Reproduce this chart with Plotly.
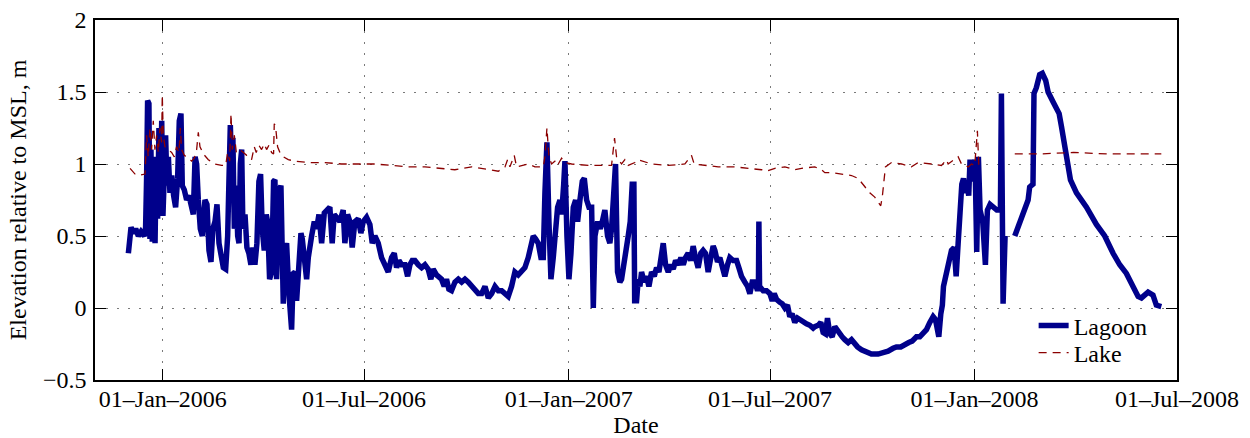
import pandas as pd
import plotly.graph_objects as go

# Water levels, days counted from 1 Nov 2005
START = pd.Timestamp("2005-11-01")

lagoon_day = [
    30.0, 31.0, 32.4, 34.5, 36.6, 39.0, 41.4, 44.4, 45.5, 46.4,
    47.3, 48.5, 49.4, 50.3, 51.5, 52.7, 54.0, 55.1, 56.3, 57.5,
    58.7, 60.0, 61.1, 62.3, 63.5, 64.7, 66.0, 67.4, 69.0, 70.7,
    72.5, 74.3, 75.8, 77.3, 78.5, 80.3, 82.4, 84.5, 86.9, 88.4,
    90.0, 91.4, 92.9, 94.7, 96.5, 98.9, 100.7, 102.5, 104.3, 106.0,
    107.9, 109.7, 111.5, 113.3, 115.4, 117.5, 119.3, 120.5, 121.7, 122.9,
    124.0, 125.3, 127.0, 128.3, 129.5, 130.7, 131.9, 133.0, 134.9, 136.6,
    138.4, 140.2, 142.0, 143.8, 145.6, 147.4, 148.9, 150.4, 152.2, 154.0,
    155.2, 157.0, 158.8, 160.6, 161.8,
    163.3, 165.4, 167.2, 169.3, 170.8, 172.3, 174.4, 176.8, 178.3, 179.8,
    181.3, 183.4, 185.2, 186.4, 188.2, 190.3, 191.8, 193.3, 194.8, 197.2,
    199.3, 201.4, 203.8, 206.2, 208.2, 211.2, 213.3, 215.1, 217.2, 220.2,
    223.2, 224.7, 227.1, 229.2, 231.3, 233.7, 236.7, 239.1, 241.2, 244.2,
    247.2, 249.3, 251.7, 254.7, 257.7, 260.7, 263.7, 266.7, 269.1, 271.2,
    273.3, 275.7, 278.7, 281.1, 283.2, 285.3, 287.7, 290.7, 293.7, 296.7,
    299.6, 302.0, 304.1, 307.1, 309.2, 311.6, 314.0, 316.1, 318.2, 320.6,
    323.7, 326.7, 329.7, 332.7, 335.7, 338.7, 341.7, 344.7, 347.7, 350.7,
    353.7, 356.7, 359.7, 362.7, 365.7, 368.7, 371.6, 374.6, 377.6, 380.6,
    383.6, 386.6, 389.6, 392.0, 394.1, 396.2, 398.6, 401.0, 403.1, 404.6,
    406.4, 408.2, 410.0, 412.1, 414.2, 416.0, 418.1, 419.6, 421.4, 422.6,
    424.4, 426.2, 428.0, 430.1, 432.2, 434.0, 436.1, 438.2, 440.0, 442.1,
    444.2, 446.6, 448.1, 449.6, 452.0, 454.4, 456.2, 458.5, 460.9, 463.0,
    464.5, 466.3, 468.1, 469.9, 472.0, 473.5, 475.9, 478.0, 479.5, 481.3,
    483.1, 484.6, 485.3,
    487.0, 488.5, 490.0, 491.5, 493.9, 496.0, 498.1, 500.5, 502.9, 505.0,
    507.1, 508.9, 511.0, 513.1, 515.5, 517.9, 520.0, 522.1, 524.5, 526.9,
    529.0, 531.0, 533.4, 535.8, 537.9, 540.0, 542.4, 544.8, 546.9, 549.0,
    551.4, 553.8, 555.9, 557.4, 559.8, 561.9, 564.0, 566.4, 568.8, 570.9,
    573.9, 576.9, 579.0, 581.4, 584.4, 586.8, 588.9, 591.0, 593.4, 595.8,
    596.6, 597.0, 597.6, 600.9, 603.9, 606.9, 609.0, 610.8, 612.9, 615.9,
    618.0, 620.4, 622.7, 624.8, 626.9, 629.3, 631.7, 633.8, 636.8, 639.8,
    642.8, 645.8,
    647.3, 650.3, 652.7, 654.8, 656.9, 658.7, 660.8, 662.9, 665.3, 667.7,
    669.8, 671.9, 674.3, 677.3, 680.3, 682.7, 685.7, 689.3, 693.7, 698.2,
    704.2, 708.7, 713.2, 717.7, 720.7, 724.6, 728.2, 731.8, 734.8, 738.7,
    741.7, 744.7, 747.7, 750.7, 753.7, 755.8, 757.6, 758.8, 760.6, 762.0,
    763.0, 765.7, 768.1, 770.2, 772.6, 774.4, 776.2, 778.0, 779.5, 781.0,
    782.8, 784.5, 785.7, 786.9, 788.1, 789.9, 791.4, 792.9, 794.4, 795.9,
    798.3, 800.7, 802.5, 804.9, 807.9, 811.0, 814.2, 815.1, 816.6, 818.4,
    820.0,
    827.1, 831.6, 836.1, 839.1, 840.5, 843.5, 844.4, 846.5, 849.5, 851.9,
    854.9, 857.1, 861.6, 864.6, 867.0, 869.1, 872.1, 875.1, 877.2, 882.6,
    891.6, 900.5, 908.0, 915.5, 921.5, 927.5, 933.5, 938.0, 941.0, 947.0,
    951.4, 954.4, 958.9,
]
lagoon_m = [
    0.38, 0.50, 0.56, 0.52, 0.55, 0.50, 0.53, 0.50, 0.56, 0.90,
    1.44, 1.42, 0.48, 1.10, 0.46, 0.85, 0.45, 1.05, 0.62, 1.25,
    0.70, 1.30, 0.64, 1.05, 1.20, 0.85, 1.05, 0.80, 0.92, 0.78,
    0.70, 0.90, 1.30, 1.35, 0.85, 0.82, 0.75, 0.78, 0.68, 0.65,
    1.05, 1.00, 0.75, 0.55, 0.50, 0.75, 0.72, 0.40, 0.32, 0.55,
    0.60, 0.72, 0.45, 0.35, 0.28, 0.27, 0.50, 0.90, 1.27, 0.95,
    1.18, 0.55, 0.85, 0.50, 0.45, 1.00, 1.10, 0.55, 0.65, 0.42,
    0.38, 0.30, 0.42, 0.30, 0.45, 0.88, 0.93, 0.55, 0.40, 0.65,
    0.60, 0.20, 0.25, 0.88, 0.89,
    0.20, 0.80, 0.85, 0.03, 0.40, 0.45, 0.10, -0.15, 0.24, 0.25,
    0.05, 0.35, 0.52, 0.48, 0.30, 0.20, 0.35, 0.45, 0.50, 0.60,
    0.55, 0.65, 0.45, 0.66, 0.68, 0.70, 0.45, 0.65, 0.63, 0.60,
    0.68, 0.45, 0.65, 0.60, 0.42, 0.60, 0.62, 0.52, 0.60, 0.63,
    0.58, 0.45, 0.50, 0.45, 0.35, 0.30, 0.25, 0.35, 0.38, 0.28,
    0.33, 0.30, 0.30, 0.22, 0.30, 0.33, 0.33, 0.30, 0.28, 0.30,
    0.27, 0.20, 0.27, 0.23, 0.22, 0.20, 0.15, 0.20, 0.13, 0.12,
    0.18, 0.20, 0.18, 0.20, 0.18, 0.15, 0.12, 0.10, 0.10, 0.15,
    0.07, 0.10, 0.15, 0.12, 0.12, 0.10, 0.08, 0.15, 0.25, 0.23,
    0.25, 0.28, 0.35, 0.42, 0.50, 0.48, 0.45, 0.35, 0.35, 0.80,
    1.15, 0.60, 0.20, 0.35, 0.55, 0.70, 0.75, 0.65, 0.85, 1.02,
    0.50, 0.20, 0.38, 0.70, 0.75, 0.60, 0.75, 0.88, 0.90, 0.75,
    0.70, 0.70, 0.00, 0.50, 0.60, 0.55, 0.60, 0.68, 0.50, 0.45,
    0.55, 0.85, 1.00, 0.25, 0.18, 0.20, 0.35, 0.45, 0.50, 0.60,
    0.86, 0.86, 0.05,
    0.05, 0.20, 0.15, 0.25, 0.18, 0.22, 0.15, 0.25, 0.22, 0.28,
    0.25, 0.35, 0.45, 0.30, 0.25, 0.30, 0.27, 0.33, 0.30, 0.35,
    0.30, 0.35, 0.38, 0.33, 0.43, 0.35, 0.28, 0.38, 0.40, 0.38,
    0.25, 0.35, 0.43, 0.40, 0.32, 0.35, 0.30, 0.22, 0.30, 0.35,
    0.33, 0.33, 0.28, 0.22, 0.18, 0.15, 0.10, 0.18, 0.18, 0.12,
    0.15, 0.60, 0.15, 0.12, 0.12, 0.10, 0.05, 0.10, 0.06, 0.04,
    0.03, 0.00, 0.02, -0.06, -0.04, -0.10, -0.07, -0.08, -0.10, -0.11,
    -0.12, -0.14,
    -0.13, -0.12, -0.10, -0.17, -0.18, -0.07, -0.18, -0.20, -0.13, -0.16,
    -0.18, -0.20, -0.22, -0.24, -0.22, -0.25, -0.27, -0.29, -0.31, -0.32,
    -0.32, -0.31, -0.30, -0.28, -0.27, -0.27, -0.26, -0.24, -0.23, -0.20,
    -0.20, -0.18, -0.15, -0.10, -0.06, -0.08, -0.14, -0.20, -0.04, 0.02,
    0.15, 0.26, 0.32, 0.40, 0.42, 0.22, 0.45, 0.72, 0.86, 0.90,
    0.80, 0.85, 0.78, 1.03, 0.88, 0.96, 1.03, 0.39, 1.05, 0.68,
    0.60, 0.30, 0.68, 0.72, 0.70, 0.68, 0.68, 1.49, 0.03, 0.50,
    None,
    0.50, 0.59, 0.69, 0.75, 0.84, 0.86, 1.49, 1.53, 1.62, 1.63,
    1.58, 1.50, 1.43, 1.38, 1.35, 1.26, 1.12, 0.93, 0.89, 0.80,
    0.70, 0.58, 0.50, 0.38, 0.30, 0.24, 0.15, 0.08, 0.07, 0.11,
    0.09, 0.02, 0.01,
]

lake_day = [
    31.5, 33.6, 36.0, 39.0, 45.0, 46.4, 47.9, 49.4, 50.9, 52.4,
    53.9, 55.4, 56.9, 58.4, 59.9, 60.5, 61.4, 62.9, 65.9, 68.9,
    71.3, 73.4, 75.5, 76.7, 77.9, 80.3, 83.9, 86.9, 89.3, 91.4,
    92.9, 94.4, 97.4, 101.9, 107.9, 113.9, 117.5, 119.3, 121.1, 122.3,
    123.5, 125.3, 127.1, 130.4, 133.4, 136.4, 139.3, 140.8, 143.2, 145.0,
    147.4, 149.8, 152.2, 154.3, 156.4, 158.8, 160.6, 161.2, 162.4, 164.2,
    166.3, 169.3, 173.8, 179.8, 191.8, 206.8, 221.7, 239.7, 251.7, 266.7,
    281.7, 296.7, 311.6, 323.6, 338.7, 353.7, 362.7, 368.7, 371.0, 373.1,
    377.0, 379.1, 389.6, 395.6, 403.1, 404.6, 406.4, 408.2, 410.6, 415.1,
    416.6, 419.6, 422.6, 428.6, 443.6, 464.5, 466.3, 467.2, 469.0, 473.5,
    476.5, 479.5, 485.5, 488.5, 500.5, 515.5, 530.5, 536.4, 538.8, 560.4,
    575.4, 590.4, 599.4, 603.9, 611.4, 620.4, 629.3, 635.3, 647.3, 653.3,
    656.3, 662.3, 671.3, 680.3, 686.3, 692.3, 696.7, 701.2, 704.2, 706.6,
    708.1, 709.6, 710.8, 716.2, 725.2, 734.2, 740.2, 752.2, 761.2, 765.7,
    767.2, 776.2, 779.2, 785.2, 788.2, 791.1, 793.5, 794.7, 795.9, 811.0,
    827.1, 850.0, 880.0, 910.0, 940.0, 958.9,
]
lake_m = [
    0.97, 0.95, 0.93, 0.92, 0.93, 1.20, 1.05, 1.25, 1.10, 1.30,
    1.10, 1.20, 1.08, 1.25, 1.15, 1.48, 1.20, 1.12, 1.10, 1.08,
    1.05, 1.12, 1.08, 1.25, 1.10, 1.06, 1.04, 1.02, 1.04, 1.10,
    1.22, 1.12, 1.07, 1.03, 1.00, 0.99, 0.99, 1.08, 1.02, 1.35,
    1.10, 1.20, 1.08, 1.10, 1.08, 1.06, 1.05, 1.03, 1.12, 1.08,
    1.13, 1.10, 1.14, 1.10, 1.13, 1.08, 1.07, 1.28, 1.26, 1.12,
    1.08, 1.05, 1.03, 1.02, 1.01, 1.01, 1.00, 1.00, 1.00, 0.99,
    0.98, 0.98, 0.97, 0.96, 0.98, 0.96, 0.95, 0.98, 1.03, 0.98,
    1.06, 0.98, 1.00, 0.98, 0.98, 1.05, 1.25, 1.05, 1.00, 1.03,
    1.00, 1.04, 1.01, 1.00, 0.99, 0.99, 1.10, 1.18, 1.05, 1.00,
    1.03, 0.99, 1.01, 1.03, 1.00, 0.99, 1.00, 1.06, 1.00, 0.98,
    0.98, 0.97, 0.96, 0.95, 0.97, 0.98, 0.96, 0.97, 0.98, 0.96,
    0.94, 0.94, 0.93, 0.92, 0.90, 0.84, 0.80, 0.77, 0.74, 0.71,
    0.78, 0.90, 0.98, 1.01, 1.00, 0.98, 1.01, 1.00, 0.99, 1.03,
    1.00, 1.05, 1.00, 0.98, 1.00, 0.99, 1.23, 1.00, 1.00, None,
    1.07, 1.07, 1.08, 1.07, 1.07, 1.07,
]

tick_dates = ["2006-01-01", "2006-07-01", "2007-01-01",
              "2007-07-01", "2008-01-01", "2008-07-01"]
tick_labels = ["01\u2013Jan\u20132006", "01\u2013Jul\u20132006", "01\u2013Jan\u20132007",
               "01\u2013Jul\u20132007", "01\u2013Jan\u20132008", "01\u2013Jul\u20132008"]

assert len(lagoon_day) == len(lagoon_m)
assert len(lake_day) == len(lake_m)

lagoon_dates = START + pd.to_timedelta(lagoon_day, unit="D")
lake_dates = START + pd.to_timedelta(lake_day, unit="D")

SERIF = "Liberation Serif"


def txt():
    return dict(family=SERIF, size=24, color="black")


fig = go.Figure()
fig.add_trace(go.Scatter(
    x=lagoon_dates, y=lagoon_m, mode="lines", name="Lagoon",
    line=dict(color="#00008B", width=5.5), legend="legend",
))
fig.add_trace(go.Scatter(
    x=lake_dates, y=lake_m, mode="lines", name="Lake",
    line=dict(color="#8B0000", width=1.3, dash="8px,6px"), legend="legend2",
))


def axis_style():
    return dict(
        showline=True, linecolor="black", linewidth=1.5, mirror="ticks",
        ticks="inside", ticklen=11, tickwidth=1.2, tickcolor="black",
        showgrid=True, gridcolor="#7a7a7a", gridwidth=1, griddash="1.5px,9.5px",
        zeroline=False, automargin=False, tickfont=txt(),
    )


fig.update_xaxes(
    type="date", range=["2005-11-01", "2008-07-01"],
    tickmode="array", tickvals=tick_dates, ticktext=tick_labels,
    ticklabelstandoff=-4,
    title=dict(text="Date", font=txt(), standoff=10),
    **axis_style(),
)
fig.update_yaxes(
    range=[-0.5, 2], tickmode="linear", tick0=-0.5, dtick=0.5,
    ticklabelstandoff=2,
    title=dict(text="Elevation relative to MSL, m", font=txt(), standoff=10),
    **axis_style(),
)

fig.update_layout(
    width=1250, height=438,
    margin=dict(l=95, r=73, t=20, b=58),
    paper_bgcolor="white", plot_bgcolor="white",
    font=txt(),
    showlegend=True,
    legend=dict(x=0.8675, y=0.15, xanchor="left", yanchor="middle",
                bgcolor="rgba(0,0,0,0)", borderwidth=0, font=txt()),
    legend2=dict(x=0.8675, y=0.075, xanchor="left", yanchor="middle",
                 bgcolor="rgba(0,0,0,0)", borderwidth=0, font=txt()),
)

fig.write_html("out.html")
